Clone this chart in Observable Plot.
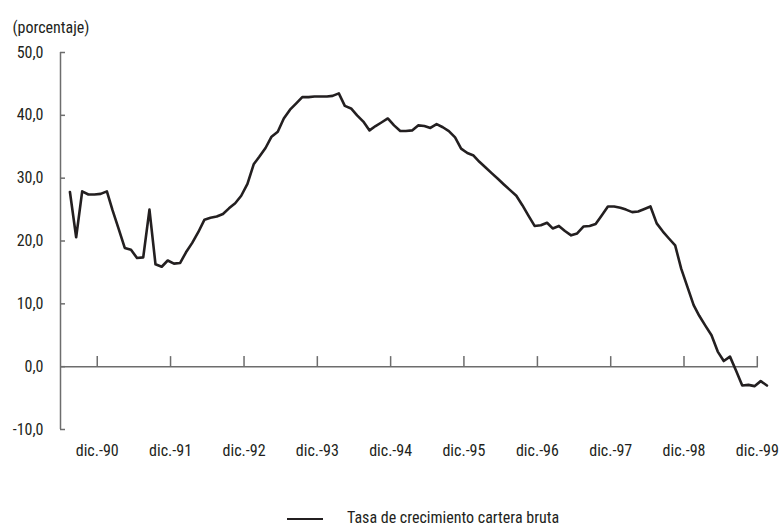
<!DOCTYPE html>
<html><head><meta charset="utf-8">
<script src="https://cdn.jsdelivr.net/npm/d3@7"></script>
<script src="https://cdn.jsdelivr.net/npm/@observablehq/plot@0.6"></script>
<style>
body{margin:0;background:#fff;font-family:"Liberation Sans Narrow","Roboto Condensed","DejaVu Sans Condensed",sans-serif;color:#231f20}
#legend{position:relative;width:779px;height:57px}
#legend .sw{position:absolute;left:287px;top:47.75px;width:36px;height:2.5px;background:#231f20}
#legend .lab{position:absolute;left:347px;top:39px;font-size:16px;line-height:18px;white-space:nowrap}
</style></head><body>
<div id="chart"></div>
<div id="legend"><span class="sw"></span><span class="lab">Tasa de crecimiento cartera bruta</span></div>
<script>
// Monthly series, starting August 1990
const startYear = 1990, startMonthIndex = 7;
const values = [
  27.8, 20.6, 27.9, 27.4, 27.4, 27.5, 27.9, 24.9, 21.9, 18.9, 18.6, 17.3, 17.4, 25.0, 16.3, 15.9, 16.9, 16.4, 16.5,
  18.2, 19.7, 21.4, 23.4, 23.7, 23.9, 24.3, 25.2, 26.0, 27.2, 29.1, 32.2, 33.4, 34.8, 36.6, 37.4, 39.5, 40.9, 41.9,
  42.9, 42.9, 43.0, 43.0, 43.0, 43.1, 43.5, 41.5, 41.1, 40.0, 39.0, 37.6,
  38.3, 38.9, 39.5, 38.4, 37.5, 37.5, 37.6, 38.4, 38.3, 38.0, 38.6, 38.1, 37.5, 36.5, 34.7, 34.0, 33.6, 32.6,
  31.7, 30.8, 29.9, 29.0, 28.1, 27.2, 25.7, 24.0, 22.4, 22.5, 22.9, 22.0, 22.4, 21.6, 20.9, 21.2, 22.3, 22.4, 22.7,
  24.1, 25.5, 25.5, 25.3, 25.0, 24.6, 24.7, 25.1, 25.5, 22.8, 21.5, 20.4, 19.3, 15.6, 12.7, 9.8, 8.1, 6.5, 5.0,
  2.4, 0.9, 1.6, -0.7, -3.0, -2.9, -3.1, -2.3, -3.0
];
const tickYears = [1990, 1991, 1992, 1993, 1994, 1995, 1996, 1997, 1998, 1999];
const xTickLabels = ["dic.-90", "dic.-91", "dic.-92", "dic.-93", "dic.-94", "dic.-95", "dic.-96", "dic.-97", "dic.-98", "dic.-99"];
const yTicks = [-10, 0, 10, 20, 30, 40, 50];
const legendLabel = "Tasa de crecimiento cartera bruta";
const unitLabel = "(porcentaje)";

const start = new Date(Date.UTC(startYear, startMonthIndex, 1));
const data = values.map((v, i) => ({date: d3.utcMonth.offset(start, i), value: v}));
const tickDates = tickYears.map(y => new Date(Date.UTC(y, 11, 15)));
const labelByTime = new Map(tickDates.map((d, i) => [d.getTime(), xTickLabels[i]]));
const xDomain = [new Date(Date.UTC(1990, 5, 15)), new Date(Date.UTC(1999, 11, 21))];
const axisColor = "#6d6d6d";
const font = '"Liberation Sans Narrow","Roboto Condensed","DejaVu Sans Condensed",sans-serif';

const chart = Plot.plot({
  width: 779, height: 470,
  marginLeft: 60, marginRight: 21, marginTop: 52, marginBottom: 41,
  style: {fontFamily: font, fontSize: "16px", color: "#231f20", background: "white"},
  x: {type: "utc", domain: xDomain},
  y: {domain: [-10, 50]},
  marks: [
    Plot.ruleX([xDomain[0]], {stroke: axisColor, strokeWidth: 1.5}),
    Plot.ruleY([0], {stroke: axisColor, strokeWidth: 1.5}),
    Plot.tickY(yTicks, {y: d => d, insetRight: 693, stroke: axisColor, strokeWidth: 1.5}),
    Plot.ruleX(tickDates, {x: d => d, y1: 0, y2: 1.6, stroke: axisColor, strokeWidth: 1.5}),
    Plot.axisY({ticks: yTicks, tickSize: 0, tickPadding: 17, label: null,
      tickFormat: d => d.toFixed(1).replace(".", ",")}),
    Plot.axisX({ticks: tickDates, tickSize: 0, tickPadding: 15, label: null,
      tickFormat: d => labelByTime.get(d.getTime())}),
    Plot.line(data, {x: "date", y: "value", stroke: "#231f20", strokeWidth: 2.6, strokeLinejoin: "round"}),
    Plot.text([unitLabel], {frameAnchor: "top-left", dx: -48, dy: -31, textAnchor: "start", fill: "#231f20"})
  ]
});
document.getElementById("chart").appendChild(chart);
document.querySelector("#legend .lab").textContent = legendLabel;
</script>
</body></html>
